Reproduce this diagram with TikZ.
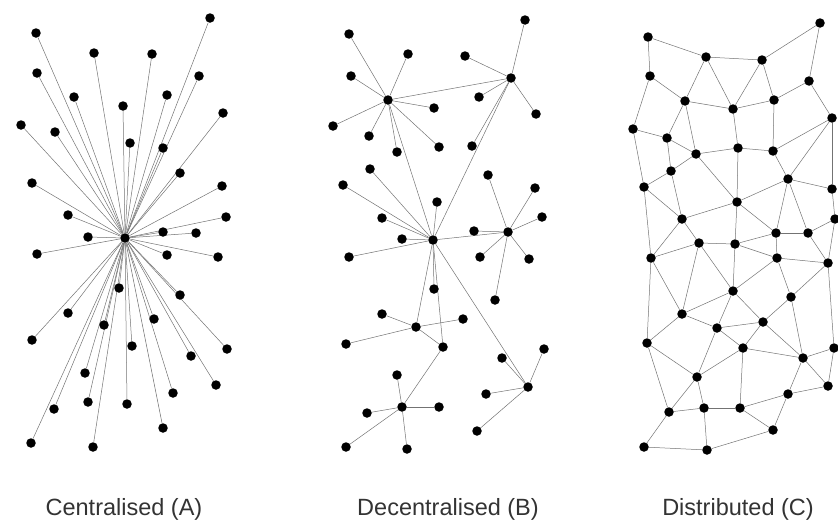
\documentclass[tikz,border=0pt]{standalone}
\usepackage{fontspec}
\setmainfont{Liberation Sans}
\usepackage{tikz}
\usetikzlibrary{backgrounds}

\tikzset{
	dot/.style={circle, fill=black, inner sep=0pt, minimum size=9.5pt},
	link/.style={draw=black!55, line width=0.5pt},
	caption/.style={font=\fontsize{23.5}{27}\selectfont, text=black!80}
}

\begin{document}
\begin{tikzpicture}[x=1pt, y=-1pt]
	\useasboundingbox (0,0) rectangle (838,525);

	% centralised
	\node[dot] (ha) at (125,238) {};
	\foreach \x/\y [count=\i] in {36/33, 210/18, 94/53, 152/54, 37/73, 199/76, 74/97, 167/95,
			123/106, 223/113, 21/125, 55/132, 130/143, 163/148, 180/173, 32/183, 222/186,
			68/215, 226/217, 88/237, 163/232, 196/233, 37/254, 167/255, 218/257, 119/288,
			180/295, 68/313, 154/319, 104/325, 32/340, 132/346, 227/349, 191/356, 85/373,
			216/385, 173/393, 88/402, 127/404, 54/409, 163/428, 31/443, 93/447} {
		\node[dot] (a\i) at (\x,\y) {};
		\begin{scope}[on background layer]
			\draw[link] (ha) -- (a\i);
		\end{scope}
	}

	% decentralised
	\node[dot] (h1) at (388,100) {};
	\node[dot] (h2) at (511,78) {};
	\node[dot] (h3) at (433,240) {};
	\node[dot] (h4) at (508,232) {};
	\node[dot] (h5) at (416,327) {};
	\node[dot] (h6) at (528,387) {};
	\node[dot] (h7) at (402,407) {};
	\foreach \h/\pts in {h1/{349/34, 408/54, 351/76, 434/108, 333/126, 369/136, 397/152, 439/147},
			h2/{525/20, 465/56, 536/114, 479/97, 472/146},
			h3/{402/239, 349/257, 434/289, 343/185, 370/169, 382/218, 437/202},
			h4/{488/175, 535/188, 542/217, 474/231, 480/257, 529/259, 495/300},
			h5/{382/314, 463/319, 346/344, 443/347},
			h6/{544/349, 502/358, 486/394, 477/431},
			h7/{397/375, 439/407, 367/413, 346/447, 407/449}} {
		\foreach \x/\y [count=\i] in \pts {
			\node[dot] (\h-\i) at (\x,\y) {};
			\begin{scope}[on background layer]
				\draw[link] (\h) -- (\h-\i);
			\end{scope}
		}
	}
	\begin{scope}[on background layer]
		\draw[link] (h1) -- (h2);
		\draw[link] (h1) -- (h3);
		\draw[link] (h2) -- (h3);
		\draw[link] (h3) -- (h4);
		\draw[link] (h3) -- (h5);
		\draw[link] (h3) -- (h6);
		\draw[link] (h3) -- (h5-4);
		\draw[link] (h5-4) -- (h7);
	\end{scope}

	% distributed
	\foreach \x/\y [count=\i] in {648/37, 706/57, 762/60, 820/23, 650/76, 685/101, 733/109,
			774/100, 809/81, 832/118, 633/129, 667/138, 696/154, 738/148, 773/151, 671/171,
			644/187, 788/179, 832/189, 737/202, 682/219, 835/219, 776/233, 808/233, 699/243,
			735/244, 651/258, 777/258, 828/263, 733/291, 791/297, 682/314, 717/328, 763/322,
			647/343, 743/348, 803/358, 834/348, 697/377, 828/386, 788/394, 669/412, 704/408,
			740/408, 773/430, 644/447, 707/450} {
		\node[dot] (c\i) at (\x,\y) {};
	}
	\begin{scope}[on background layer]
		\foreach \u/\v in {1/2, 2/3, 3/4, 1/5, 4/9, 2/6, 2/7, 3/7, 3/8, 5/6, 5/11, 6/7, 7/8,
				8/9, 9/10, 6/12, 6/13, 7/14, 8/15, 10/15, 10/18, 10/19, 11/12, 11/17, 12/13,
				12/16, 13/14, 14/15, 15/18, 13/16, 13/20, 14/20, 16/17, 16/21, 17/21, 17/27,
				18/19, 18/20, 18/23, 18/24, 19/22, 20/21, 20/26, 20/23, 21/25, 21/27, 25/27,
				25/26, 26/23, 26/28, 23/24, 23/28, 24/22, 24/29, 28/29, 22/29, 25/30, 26/30,
				28/30, 28/31, 29/31, 29/38, 27/32, 25/32, 27/35, 30/32, 30/33, 30/34, 31/34,
				31/37, 32/33, 32/35, 33/34, 33/36, 34/36, 34/37, 33/39, 35/39, 35/42, 36/37,
				36/39, 36/44, 37/38, 37/40, 37/41, 38/40, 40/41, 39/42, 39/43, 42/43, 43/44,
				43/47, 44/41, 44/45, 41/45, 42/46, 46/47, 45/47}
			\draw[link] (c\u) -- (c\v);
	\end{scope}

	% captions
	\node[caption] (capa) at (124,509) {Centralised (A)};
	\node[caption] (capb) at (448,509) {Decentralised (B)};
	\node[caption] (capc) at (738,509) {Distributed (C)};
\end{tikzpicture}
\end{document}
